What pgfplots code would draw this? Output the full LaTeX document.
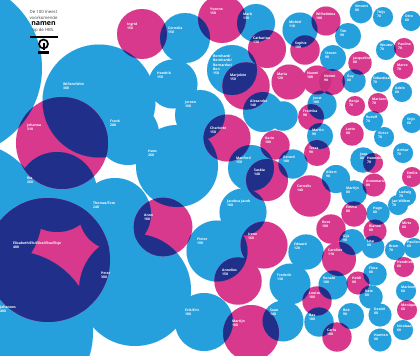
\documentclass[border=0pt]{standalone}
\usepackage{pgfplots}
\usepackage{pgfplotstable}
\usepackage{fontspec}
\setmainfont{Open Sans}
\pgfplotsset{compat=1.18}
\definecolor{bub}{RGB}{38,160,220}
\definecolor{pnk}{RGB}{217,57,140}
\definecolor{nvy}{RGB}{32,48,138}
\definecolor{pnkd}{RGB}{200,48,130}
\pgfplotstableread{
x y r
-46 68 88
185 38 25
99 101 56.5
173 84 24.5
200 115 25
128 134 31
177 166 41
-30 215 72
57 192 40
115 214 36
135 290 56
12 332 81
217 251 30.5
204 322 29
232 70 25
256 23 19
300 30 17.5
348 36 13
361 12 11.3
383 17 10
411 21 10
386 50 10
333 58 13
354 81 11.7
381 82 10
402 92 10
322 105 14.5
373 121 10
412 123 10
384 137 10
320 136 13
263 112 20
283 116 14.7
293 164 14.6
251 168 23
336 179 14
363 160 12.7
403 153 10
354 193 12.7
398 205 10
406 196 10
378 213 11.7
352 242 13
373 247 11.3
395 250 10
414 248 10
306 252 17.6
243 212 23.5
290 284 20.4
333 285 14.5
375 274 11.7
371 297 11.7
406 291 10
403 330 10
380 315 11.5
351 316 13
380 340 11.5
319 322 14.6
283 321 20.4
}\bluet
\pgfplotstableread{
x y r
142 34 25
62 143 46
48 260 62
163 227 29.3
222 19 24
246 86 23.7
267 49 19
326 21 14.5
305 50 14.7
404 48 10
360 63 11.7
289 82 17.5
317 80 14.5
332 82 13
403 69 10
311 117 13
355 106 10
378 103 10
352 134 11.7
317 153 13
275 145 14.6
267 180 21
227 138 23.5
310 196 20.7
373 163 10
412 177 10
374 185 11.5
354 214 12.7
409 228 10
331 229 14.6
375 231 11.5
404 267 10
339 259 17
264 245 23.5
238 281 23.7
358 283 11.5
407 310 10
317 301 14.6
337 337 14.6
251 333 28
}\pinkt
\pgfplotstableread{
x y r
332 82 13
}\overt
\pgfplotstableread{
x y name n
127 23 Ingrid 150
168 27 Cornelia 150
63 83 {Willem/Wim} 380
27 124 Johanna 310
110 120 Frank 200
157 72 Hendrik 150
185 101 Jeroen 160
148 150 Hans 260
27 177 Ria 260
93 202 {Thomas/Tom} 240
13 242 {Elisabeth/Els/Elise/Elsa/Elsje} 400
101 272 Peter 380
144 214 Anne 180
197 238 Pieter 190
185 309 {Erik/Eric} 180
0 306 Johannes 480
210 8 Yvonne 150
243 13 Mark 130
253 37 Catharina 130
289 21 Michiel 110
316 13 Wilhelmina 100
295 42 Sophie 100
340 30 Tim 90
355 5 Vincent 80
377 11 Thijs 70
405 15 Otto 60
380 44 Wouter 70
398 43 Pauline 70
325 52 Steven 90
353 57 Jacqueline 80
277 73 Maria 120
307 72 Naomi 100
324 75 {Noëmi} 90
347 75 Guy 80
373 77 Sebastiaan 70
397 64 Marco 70
395 87 Adele 60
213 55 {Bernhard/} {}
213 59.2 {Bernhardt/} {}
213 63.4 {Bernardus/} {}
213 67.6 Ben 150
230 74 Marjolein 150
250 100 Alexander 140
313 97 Joost 100
303 110 Fredrika 90
349 100 Ronja 70
372 98 Marianne 70
366 116 Rudolf 70
407 118 Stijn 60
346 128 Lotte 80
378 132 Victor 70
312 129 Martin 90
309 147 Tessa 90
265 137 Karin 100
283 156 Gerard 100
236 157 Manfred 150
254 169 Saskia 140
210 127 Charlotte 150
326 171 Albert 90
360 153 Joep 80
367 157 Hanneke 70
397 149 Arthur 70
407 172 Emilie 60
297 185 Cornelis 140
346 187 Martijn 80
366 180 Annemarie 80
399 191 Ludwig 70
392 200 {Jan Willem} 70
346 206 Emma 80
373 207 Hugo 80
402 222 Mirte 60
322 221 Roos 100
369 225 Rianne 80
343 235 Gijs 90
367 240 Lisa 80
389 245 Bram 70
407 241 Paulien 60
397 261 Hendrieke 60
328 249 Caroline 110
294 243 Edward 120
227 200 {Jacobus Jacob} 160
248 233 Irene 160
222 269 Annelies 150
277 274 Frederik 130
323 277 Ronald 100
352 277 Heidi 80
369 267 Flora 80
365 290 Kate 80
401 286 Marleen 60
401 304 Monique 60
397 325 Nicolaas 60
374 308 {Daniël} 80
343 309 Bob 90
374 334 Harmen 80
309 292 Louise 100
309 314 Bas 100
327 329 Carla 100
270 309 Sean 140
232 320 Martijn 180
}\labelt
\pgfplotsset{base/.style={hide axis,scale only axis,width=620pt,height=556pt,xmin=-100,xmax=520,ymin=-100,ymax=456,y dir=reverse,clip=false},
 bub/.style={only marks,mark=*,scatter,scatter src=x,
   scatter/use mapped color={draw=#1,fill=#1,line width=0.01pt},
   visualization depends on={\thisrow{r}\as\rr},
   scatter/@pre marker code/.append style={/tikz/mark size=\rr}},
 lab/.style={only marks,mark=none,point meta=explicit symbolic,
  nodes near coords,
  every node near coord/.style={anchor=north west,inner sep=0pt,align=left,font=\bfseries\fontsize{3.4}{4}\selectfont,text=white}}}
\pgfplotstablegetrowsof{\pinkt}
\pgfmathtruncatemacro\lastrow{\pgfplotsretval-1}
\begin{document}
\begin{tikzpicture}
\path[use as bounding box,clip] (100pt,100pt) rectangle (520pt,456pt);
\begin{axis}[base]
\addplot[bub=bub] table {\bluet};
\addplot[bub=pnk] table {\pinkt};
\end{axis}
\gdef\clipcircles{}
\foreach \i in {0,...,\lastrow}{%
  \pgfplotstablegetelem{\i}{x}\of\pinkt\pgfmathsetmacro\cx{\pgfplotsretval+100}%
  \pgfplotstablegetelem{\i}{y}\of\pinkt\pgfmathsetmacro\cy{456-\pgfplotsretval}%
  \pgfplotstablegetelem{\i}{r}\of\pinkt\pgfmathsetmacro\cr{\pgfplotsretval}%
  \xdef\clipcircles{\clipcircles (\cx pt,\cy pt) circle[radius=\cr pt]}%
}
\begin{scope}
\expandafter\clip\clipcircles;
\begin{axis}[base]
\addplot[bub=nvy] table {\bluet};
\end{axis}
\end{scope}
\begin{scope}
\clip (417pt,376pt) circle[radius=14.5pt];
\begin{axis}[base]
\addplot[bub=pnkd] table {\overt};
\end{axis}
\end{scope}
\begin{axis}[base]
\addplot[lab] table[x=x,y=y,meta=name] {\labelt};
\addplot[lab] table[x=x,y expr=\thisrow{y}+4.2,meta=n] {\labelt};
\node[font=\fontsize{4.3}{5}\selectfont,text=black!75] at (axis cs:43.5,12) {De 100 meest};
\node[font=\fontsize{4.3}{5}\selectfont,text=black!75] at (axis cs:43.5,18) {voorkomende};
\node[font=\bfseries\fontsize{7}{8}\selectfont,text=black] at (axis cs:43.5,24) {namen};
\node[font=\fontsize{4.3}{5}\selectfont,text=black!75] at (axis cs:43.5,30.5) {op de HBS.};
\draw[black,line width=1.3pt] (axis cs:29.5,37) -- (axis cs:57.5,37);
\draw[black,line width=1.7pt] (axis cs:43.5,44) circle[radius=4.5pt];
\fill[black] (axis cs:42.5,43) rectangle (axis cs:44.5,50);
\fill[black] (axis cs:38,51) rectangle (axis cs:49,54);
\end{axis}
\end{tikzpicture}
\end{document}
